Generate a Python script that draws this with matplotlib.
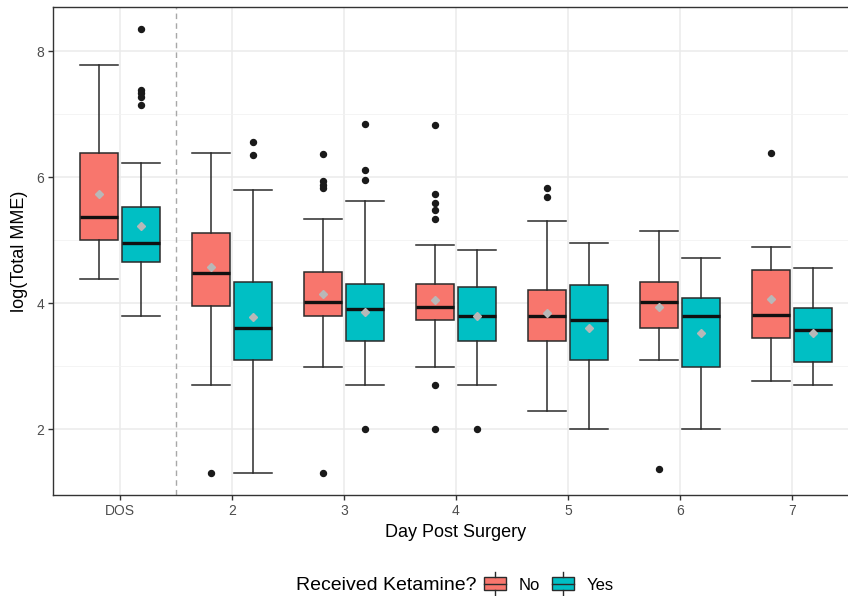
import numpy as np
import matplotlib
matplotlib.use('Agg')
import matplotlib.pyplot as plt
from matplotlib.patches import Rectangle, Patch
from matplotlib.lines import Line2D
from matplotlib.legend_handler import HandlerBase

plt.rcParams['font.family'] = ['Liberation Sans', 'DejaVu Sans']

###################################Data#########################################

days = ['DOS', '2', '3', '4', '5', '6', '7']
groups = ['No', 'Yes']

# Ketamine = No
no_whislo = [4.38, 2.70, 2.99, 2.99, 2.29, 3.10, 2.76]
no_q1 = [5.00, 3.96, 3.79, 3.73, 3.40, 3.61, 3.44]
no_med = [5.37, 4.48, 4.02, 3.94, 3.79, 4.02, 3.81]
no_q3 = [6.38, 5.11, 4.49, 4.31, 4.21, 4.33, 4.53]
no_whishi = [7.78, 6.38, 5.34, 4.92, 5.31, 5.14, 4.89]
no_mean = [5.74, 4.58, 4.15, 4.05, 3.85, 3.94, 4.07]
no_out = [[], [1.31], [6.36, 5.94, 5.87, 5.82, 1.31],
          [6.83, 5.73, 5.59, 5.48, 5.34, 2.70, 2.00], [5.82, 5.69], [1.37], [6.39]]

# Ketamine = Yes
yes_whislo = [3.80, 1.31, 2.70, 2.70, 2.00, 2.00, 2.70]
yes_q1 = [4.65, 3.10, 3.40, 3.40, 3.10, 2.98, 3.06]
yes_med = [4.96, 3.61, 3.90, 3.79, 3.73, 3.79, 3.58]
yes_q3 = [5.53, 4.34, 4.31, 4.25, 4.28, 4.08, 3.92]
yes_whishi = [6.23, 5.79, 5.62, 4.84, 4.96, 4.72, 4.55]
yes_mean = [5.23, 3.78, 3.86, 3.80, 3.61, 3.53, 3.53]
yes_out = [[8.35, 7.38, 7.33, 7.27, 7.14], [6.56, 6.35], [6.84, 6.12, 5.96, 2.00],
           [2.00], [], [], []]

colors = ['#F8766D', '#00BFC4']

###################################Plotting#####################################


def make_stats(whislo, q1, med, q3, whishi, mean, out):
    return [dict(whislo=a, q1=b, med=c, q3=d, whishi=e, mean=f, fliers=g)
            for a, b, c, d, e, f, g in zip(whislo, q1, med, q3, whishi, mean, out)]


stats = [make_stats(no_whislo, no_q1, no_med, no_q3, no_whishi, no_mean, no_out),
         make_stats(yes_whislo, yes_q1, yes_med, yes_q3, yes_whishi, yes_mean, yes_out)]

fig = plt.figure(figsize=(8.48, 5.96), dpi=100)
ax = fig.add_axes([53 / 848, 1 - 495 / 596, 806 / 848, 488 / 596])

x = np.arange(1, len(days) + 1)
bw = 0.34
offsets = [-0.1875, 0.1875]
edge = '#2b2b2b'

for st, off, col in zip(stats, offsets, colors):
    ax.bxp(st, positions=x + off, widths=bw, capwidths=bw, patch_artist=True,
           showmeans=True, manage_ticks=False,
           boxprops=dict(facecolor=col, edgecolor=edge, linewidth=1.1),
           whiskerprops=dict(color=edge, linewidth=1.1),
           capprops=dict(color=edge, linewidth=1.1),
           medianprops=dict(color='#111111', linewidth=2.4),
           meanprops=dict(marker='D', markerfacecolor='#B8B8B8', markeredgecolor='#B8B8B8',
                          markersize=4.5),
           flierprops=dict(marker='o', markerfacecolor='#1a1a1a', markeredgecolor='#1a1a1a',
                           markersize=4.3))

ax.axvline(1.5, color='#A8A8A8', linestyle=(0, (4, 3)), linewidth=1.0, zorder=1)

ax.set_xlim(0.4, 7.6)
ax.set_ylim(0.955, 8.70)
ax.set_xticks(x)
ax.set_xticklabels(days)
ax.set_yticks([2, 4, 6, 8])
ax.set_yticks([3, 5, 7], minor=True)

ax.grid(which='major', color='#EBEBEB', linewidth=1.1)
ax.grid(which='minor', axis='y', color='#F2F2F2', linewidth=0.6)
ax.set_axisbelow(True)

for s in ['left', 'top', 'bottom']:
    ax.spines[s].set_color('#333333')
    ax.spines[s].set_linewidth(1.0)
ax.spines['right'].set_visible(False)

ax.tick_params(which='major', length=3.5, width=1.0, color='#333333',
               labelcolor='#4D4D4D', labelsize=10, pad=3)
ax.tick_params(which='minor', length=0)

ax.set_xlabel('Day Post Surgery', fontsize=13, labelpad=4)
ax.set_ylabel('log(Total MME)', fontsize=13, labelpad=6)


# legend key: small box with median line and whisker stubs
class BoxKey(HandlerBase):
    def create_artists(self, legend, orig_handle, xdescent, ydescent, width, height,
                       fontsize, trans):
        x0, y0 = -xdescent, -ydescent
        rect = Rectangle((x0, y0), width, height, facecolor=orig_handle.get_facecolor(),
                         edgecolor=edge, linewidth=1.0, transform=trans)
        mid = Line2D([x0, x0 + width], [y0 + height / 2] * 2, color=edge, lw=1.0,
                     transform=trans)
        top = Line2D([x0 + width / 2] * 2, [y0 + height, y0 + height + 4], color=edge,
                     lw=1.0, transform=trans)
        bot = Line2D([x0 + width / 2] * 2, [y0, y0 - 4], color=edge, lw=1.0,
                     transform=trans)
        return [rect, mid, top, bot]


handles = [Patch(facecolor=c) for c in colors]
fig.text(476 / 848, 1 - 585 / 596, 'Received Ketamine?', fontsize=14,
         ha='right', va='center')
fig.legend(handles, groups, handler_map={Patch: BoxKey()}, loc='center left',
           bbox_to_anchor=(481 / 848, 1 - 585 / 596), ncol=2, frameon=False,
           fontsize=12, handlelength=1.3, handleheight=0.8, handletextpad=0.75,
           columnspacing=0.75, borderpad=0.2, borderaxespad=0)

fig.savefig('out.png', dpi=100)
